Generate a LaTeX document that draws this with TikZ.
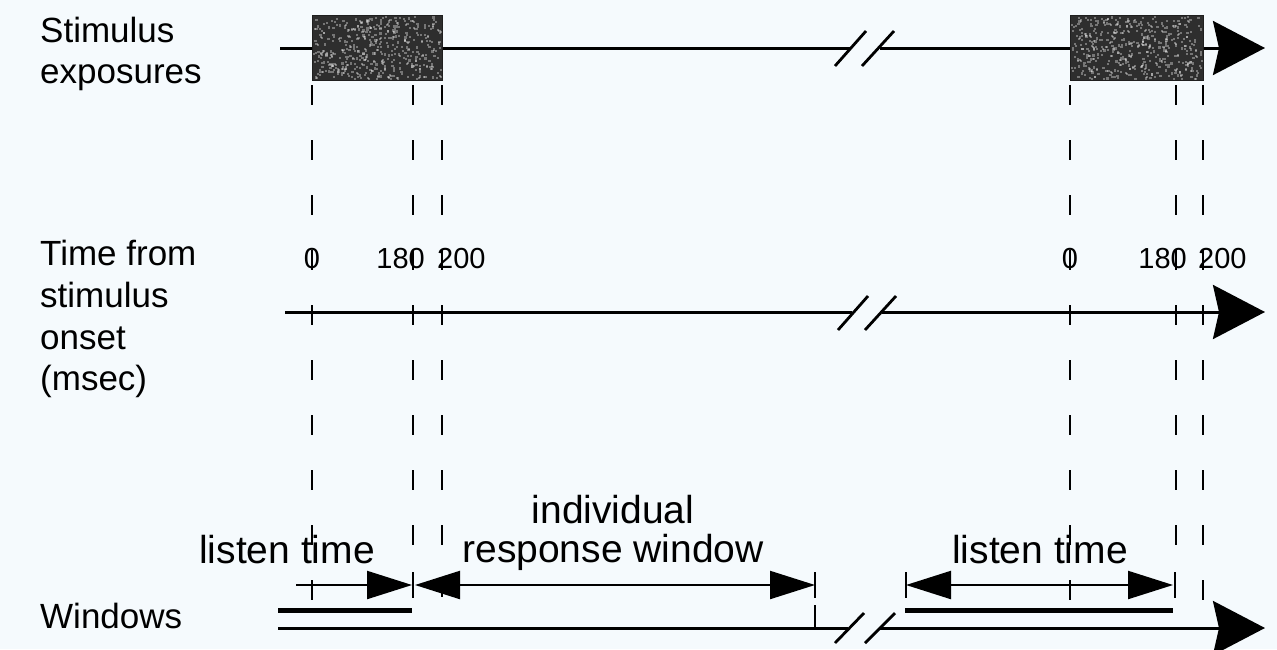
\documentclass[tikz,border=0pt]{standalone}
\usepackage{fontspec}
\setmainfont{Liberation Sans}
\usetikzlibrary{arrows.meta}
\definecolor{bg}{RGB}{245,250,253}
\begin{document}
\begin{tikzpicture}[x=1pt,y=-1pt,
  axis/.style={line width=3pt},
  bigtip/.style={-{Stealth[length=52pt,width=54pt,inset=6pt]}},
  brk/.style={line width=2.8pt},
  vdash/.style={line width=1.7pt,dash pattern=on 20pt off 35pt},
  dimtip/.style={line width=2.2pt,>={Triangle[length=45pt,width=28pt]}},
  thick bar/.style={line width=5pt},
  stim/.style={fill=black!82,draw=black!88,line width=1pt},
  speck/.style={fill=white,opacity=0.35},
  lab/.style={font=\fontsize{35}{42}\selectfont,inner sep=0pt},
  wlab/.style={font=\fontsize{39}{39}\selectfont,inner sep=0pt},
  num/.style={font=\fontsize{29}{30}\selectfont,inner sep=0pt}]
\fill[bg] (0,0) rectangle (1277,649);
\useasboundingbox (0,0) rectangle (1277,649);
% left labels
\node[lab,anchor=base west] (l1a) at (40,42) {Stimulus};
\node[lab,anchor=base west] (l1b) at (40,83) {exposures};
\node[lab,anchor=base west] (l2a) at (40,265) {Time from};
\node[lab,anchor=base west] (l2b) at (40,307) {stimulus};
\node[lab,anchor=base west] (l2c) at (40,349) {onset};
\node[lab,anchor=base west] (l2d) at (40,390) {(msec)};
\node[lab,anchor=base west] (l3) at (40,628) {Windows};
% top line
\coordinate (t0) at (280,48); \coordinate (t1) at (850,48);
\coordinate (t2) at (880,48); \coordinate (t3) at (1265,48);
\draw[axis] (t0) -- (t1);
\draw[axis,bigtip] (t2) -- (t3);
\draw[brk] (835,66) -- (866,31);
\draw[brk] (862,66) -- (894,31);
\node[stim,minimum width=130pt,minimum height=65pt,anchor=north west] (b1) at (312,15) {};
\node[stim,minimum width=133pt,minimum height=65pt,anchor=north west] (b2) at (1070,15) {};
\pgfmathsetseed{7}
\foreach \i in {1,...,450} {
  \pgfmathsetmacro{\px}{313+127*rnd}
  \pgfmathsetmacro{\py}{16+62*rnd}
  \fill[speck] (\px,\py) rectangle +(2.2,2.2);
  \pgfmathsetmacro{\qx}{1071+130*rnd}
  \pgfmathsetmacro{\qy}{16+62*rnd}
  \fill[speck] (\qx,\qy) rectangle +(2.2,2.2);
}
% middle axis
\coordinate (m0) at (285,312); \coordinate (m1) at (852,312);
\coordinate (m2) at (882,312); \coordinate (m3) at (1265,312);
\draw[axis] (m0) -- (m1);
\draw[axis,bigtip] (m2) -- (m3);
\draw[brk] (838,330) -- (868,296);
\draw[brk] (865,330) -- (896,296);
% numbers
\node[num,anchor=base] (n0) at (312,268) {0};
\node[num,anchor=base east] (n180) at (425,268) {180};
\node[num,anchor=base west] (n200) at (437,268) {200};
\node[num,anchor=base] (n0b) at (1070,268) {0};
\node[num,anchor=base east] (n180b) at (1187,268) {180};
\node[num,anchor=base west] (n200b) at (1198,268) {200};
% dashed verticals
\draw[vdash] (312,85) -- (312,628);
\draw[vdash] (413,85) -- (413,575);
\draw[vdash] (442,85) -- (442,597);
\draw[vdash] (1070,85) -- (1070,628);
\draw[vdash] (1176,85) -- (1176,575);
\draw[vdash] (1203,85) -- (1203,600);
% bottom axis
\coordinate (w0) at (278,628); \coordinate (w1) at (848,628);
\coordinate (w2) at (880,628); \coordinate (w3) at (1265,628);
\draw[axis] (w0) -- (w1);
\draw[axis,bigtip] (w2) -- (w3);
\draw[brk] (835,643) -- (864,613);
\draw[brk] (865,643) -- (895,613);
% thick bars
\draw[thick bar] (278,610) -- (412,610);
\draw[thick bar] (905,610) -- (1173,610);
% dimension arrows
\coordinate (d0) at (296,585); \coordinate (d1) at (412,585);
\coordinate (d2) at (415,585); \coordinate (d3) at (815,585);
\coordinate (d4) at (906,585); \coordinate (d5) at (1173,585);
\draw[dimtip,->] (d0) -- (d1);
\draw[dimtip,<->] (d2) -- (d3);
\draw[dimtip,<->] (d4) -- (d5);
\draw[line width=2pt] (413,572) -- (413,598);
\draw[line width=2pt] (815,572) -- (815,598);
\draw[line width=2pt] (815,605) -- (815,628);
\draw[line width=2pt] (906,572) -- (906,598);
\draw[line width=2pt] (1175,572) -- (1175,598);
% labels
\node[wlab,anchor=base] (lt1) at (287,563) {listen time};
\node[wlab,anchor=base] (rw1) at (613,523) {individual};
\node[wlab,anchor=base] (rw2) at (613,562) {response window};
\node[wlab,anchor=base] (lt2) at (1040,563) {listen time};
\end{tikzpicture}
\end{document}
